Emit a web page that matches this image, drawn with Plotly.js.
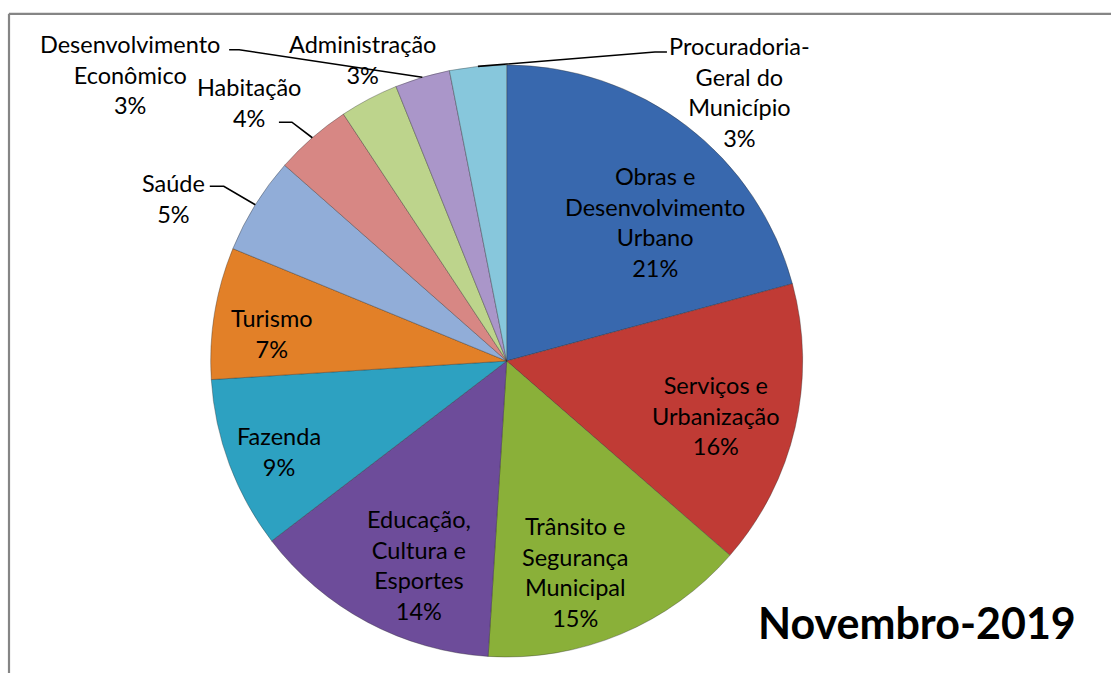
<!DOCTYPE html>
<html>
<head>
<meta charset="utf-8">
<script src="https://cdn.plot.ly/plotly-3.0.1.min.js"></script>
<style>html,body{margin:0;padding:0;background:#fff;}#chart{width:1111px;height:673px;}</style>
</head>
<body>
<div id="chart"></div>
<script>
// ---- data ----
const categories = ['Obras e Desenvolvimento Urbano','Serviços e Urbanização','Trânsito e Segurança Municipal','Educação, Cultura e Esportes','Fazenda','Turismo','Saúde','Habitação','Administração','Desenvolvimento Econômico','Procuradoria-Geral do Município'];
const values = [20.8, 15.6, 14.6, 13.6, 9.4, 7.2, 5.3, 4.2, 3.2, 3.0, 3.1];
const labelLines = ['Obras e<br>Desenvolvimento<br>Urbano','Serviços e<br>Urbanização','Trânsito e<br>Segurança<br>Municipal','Educação,<br>Cultura e<br>Esportes','Fazenda','Turismo','Saúde','Habitação','Administração','Desenvolvimento<br>Econômico','Procuradoria-<br>Geral do<br>Município'];
const chartTitle = 'Novembro-2019';

// ---- style / layout config ----
const colors = ['#3868AE','#C03B35','#8AB039','#6D4C9A','#2DA1C1','#E28028','#91ADD8','#D78784','#BDD48C','#AA96C9','#87C7DC'];
const W = 1111, H = 673;
const cx = 506.7, cy = 361, R = 296;
// label placement: radius (fraction of R) and angle shift from slice mid-angle (deg)
const labelPlace = [
  {r:0.687, d:9.5}, {r:0.731, d:1.7}, {r:0.749, d:4.8}, {r:0.75, d:-4.7},
  {r:0.827, d:-1.1}, {r:0.80, d:-2.6}, {r:1.252, d:-5.8}, {r:1.234, d:-3.85},
  {r:1.127, d:2.2}, {r:1.598, d:-36.2}, {r:1.203, d:46.5}
];
// leader lines: start offset from label centre (px) and horizontal elbow length
const leaders = {6:{dx:36,dy:-12,len:14}, 7:{dx:30,dy:20,len:13}, 9:{dx:99,dy:-25,len:10}, 10:{dx:-73,dy:-40,len:-12}};

const total = values.reduce((a,b)=>a+b,0);
function polar(angDeg, r){ const a = angDeg*Math.PI/180; return [cx + r*Math.sin(a), cy - r*Math.cos(a)]; }
function px(x){ return x/W; }
function py(y){ return 1 - y/H; }

const annotations = [];
const shapes = [];
let cum = 0;
values.forEach((v,i)=>{
  const mid = (cum + v/2)/total*360;
  cum += v;
  const pl = labelPlace[i];
  const [lx, ly] = polar(mid + pl.d, pl.r*R);
  const pct = Math.round(v/total*100) + '%';
  annotations.push({xref:'paper', yref:'paper', x:px(lx), y:py(ly), xanchor:'center', yanchor:'middle',
    text: labelLines[i] + '<br>' + pct, showarrow:false, align:'center',
    font:{family:'Lato, "Open Sans", sans-serif', size:23.5, color:'#000'}});
  if (leaders[i]) {
    const L = leaders[i];
    const [ex, ey] = polar(mid, R);
    const sx = lx + L.dx, sy = ly + L.dy;
    const bx = sx + L.len;
    shapes.push({type:'path', xref:'paper', yref:'paper',
      path:`M ${px(sx)} ${py(sy)} L ${px(bx)} ${py(sy)} L ${px(ex)} ${py(ey)}`,
      line:{color:'#000', width:1.6}});
  }
});

annotations.push({xref:'paper', yref:'paper', x:px(917), y:py(622), xanchor:'center', yanchor:'middle',
  text:'<b>'+chartTitle+'</b>', showarrow:false, font:{family:'Lato, "Open Sans", sans-serif', size:43, color:'#000'}});

// border (top and left visible)
shapes.push({type:'line', xref:'paper', yref:'paper', x0:px(9), y0:py(13.8), x1:1, y1:py(13.8), line:{color:'#858585', width:2.2}});
shapes.push({type:'line', xref:'paper', yref:'paper', x0:px(9), y0:py(13.8), x1:px(9), y1:0, line:{color:'#858585', width:2.2}});

const trace = {
  type:'pie', labels:categories, values:values, sort:false, direction:'clockwise', rotation:0,
  textinfo:'none', hoverinfo:'label+percent',
  marker:{colors:colors, line:{color:'rgba(40,40,40,0.35)', width:1}},
  domain:{x:[px(cx-R), px(cx+R)], y:[py(cy+R), py(cy-R)]},
  showlegend:false
};

Plotly.newPlot('chart', [trace], {
  width:W, height:H, margin:{l:0,r:0,t:0,b:0},
  paper_bgcolor:'#fff', plot_bgcolor:'#fff', showlegend:false,
  annotations:annotations, shapes:shapes
}, {displayModeBar:false, staticPlot:true});
</script>
</body>
</html>
